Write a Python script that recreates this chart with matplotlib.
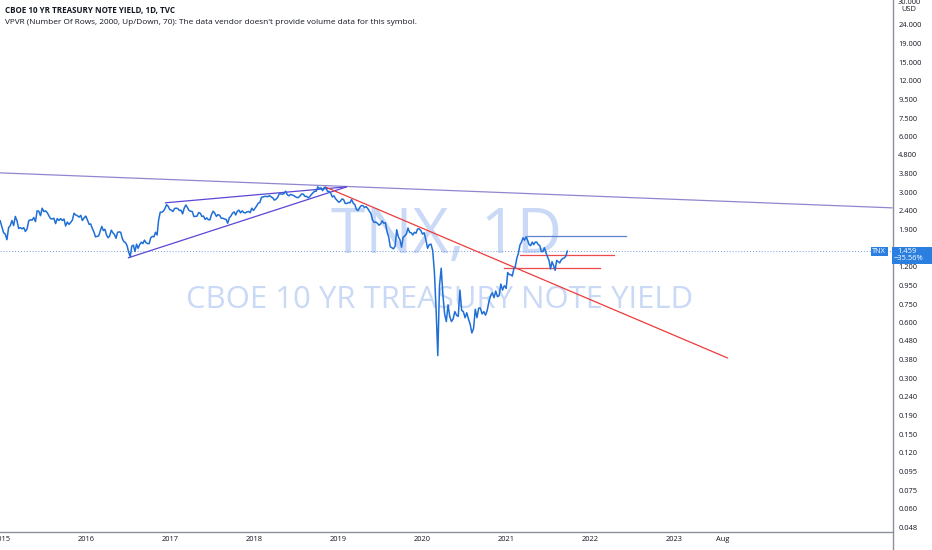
import matplotlib
matplotlib.use("Agg")
import matplotlib.pyplot as plt
from matplotlib.patches import Rectangle
from matplotlib.lines import Line2D
from matplotlib.ticker import NullLocator
import pandas as pd

plt.rcParams["font.family"] = ["Open Sans", "DejaVu Sans"]

# TNX closes, roughly one per week, one list per year
yld_2015 = [2.12, 1.97, 1.83, 1.80, 1.68, 1.95, 2.00, 2.13, 2.00, 2.24, 2.12, 1.93, 1.95,
            1.92, 1.95, 1.86, 1.92, 2.12, 2.15, 2.14, 2.21, 2.10, 2.40, 2.39, 2.26, 2.48,
            2.38, 2.40, 2.35, 2.26, 2.18, 2.17, 2.19, 2.05, 2.18, 2.13, 2.18, 2.13, 2.17,
            1.99, 2.09, 2.03, 2.08, 2.14, 2.33, 2.28, 2.26, 2.22, 2.27, 2.13, 2.20, 2.25]
yld_2016 = [2.24, 2.13, 2.03, 2.04, 1.93, 1.85, 1.74, 1.75, 1.76, 1.87, 1.98, 1.88, 1.91,
            1.78, 1.72, 1.76, 1.89, 1.83, 1.79, 1.71, 1.84, 1.85, 1.84, 1.70, 1.64, 1.62,
            1.56, 1.44, 1.36, 1.55, 1.57, 1.45, 1.59, 1.51, 1.58, 1.63, 1.60, 1.67, 1.62,
            1.60, 1.60, 1.72, 1.75, 1.74, 1.84, 1.78, 2.15, 2.36, 2.36, 2.39, 2.47, 2.59,
            2.54, 2.44]
yld_2017 = [2.42, 2.38, 2.47, 2.48, 2.47, 2.41, 2.42, 2.31, 2.48, 2.58, 2.50, 2.41, 2.39,
            2.38, 2.24, 2.24, 2.25, 2.35, 2.33, 2.24, 2.25, 2.16, 2.20, 2.15, 2.15, 2.30,
            2.39, 2.33, 2.24, 2.29, 2.27, 2.19, 2.19, 2.17, 2.16, 2.06, 2.20, 2.25, 2.33,
            2.37, 2.28, 2.39, 2.42, 2.34, 2.40, 2.35, 2.34, 2.37, 2.38, 2.35, 2.48, 2.41]
yld_2018 = [2.48, 2.55, 2.64, 2.66, 2.84, 2.85, 2.87, 2.87, 2.86, 2.90, 2.85, 2.82, 2.74,
            2.77, 2.83, 2.96, 2.96, 2.95, 2.97, 3.06, 2.93, 2.89, 2.94, 2.92, 2.90, 2.86,
            2.83, 2.83, 2.89, 2.96, 2.95, 2.87, 2.87, 2.82, 2.86, 2.94, 3.00, 3.06, 3.06,
            3.23, 3.16, 3.19, 3.08, 3.21, 3.19, 3.06, 3.05, 2.99, 2.85, 2.89, 2.79, 2.73]
yld_2019 = [2.67, 2.70, 2.78, 2.76, 2.63, 2.63, 2.66, 2.65, 2.76, 2.64, 2.59, 2.44, 2.41,
            2.50, 2.56, 2.56, 2.50, 2.53, 2.47, 2.39, 2.32, 2.14, 2.08, 2.09, 2.06, 2.01,
            2.04, 2.12, 2.06, 2.07, 1.85, 1.74, 1.54, 1.52, 1.50, 1.55, 1.90, 1.74, 1.68,
            1.53, 1.73, 1.76, 1.80, 1.94, 1.84, 1.83, 1.78, 1.84, 1.82, 1.92, 1.92, 1.88]
yld_2020 = [1.80, 1.83, 1.68, 1.51, 1.58, 1.59, 1.47, 1.13, 0.71, 0.40, 0.95, 1.18, 0.85,
            0.67, 0.61, 0.75, 0.65, 0.61, 0.63, 0.69, 0.66, 0.65, 0.90, 0.70, 0.69, 0.64,
            0.68, 0.63, 0.59, 0.53, 0.56, 0.71, 0.64, 0.72, 0.72, 0.67, 0.69, 0.66, 0.70,
            0.78, 0.84, 0.87, 0.82, 0.89, 0.83, 0.84, 0.97, 0.90, 0.95, 0.93]
yld_2021 = [0.92, 1.12, 1.09, 1.09, 1.07, 1.17, 1.21, 1.34, 1.42, 1.57, 1.63, 1.72, 1.67,
            1.74, 1.67, 1.58, 1.56, 1.63, 1.58, 1.63, 1.63, 1.58, 1.56, 1.45, 1.45, 1.52,
            1.43, 1.36, 1.30, 1.17, 1.28, 1.22, 1.15, 1.30, 1.28, 1.26, 1.31, 1.33, 1.34,
            1.37, 1.459]
year_spans = [("2014-12-24", "2015-12-31", yld_2015),
              ("2016-01-01", "2016-12-30", yld_2016),
              ("2017-01-06", "2017-12-29", yld_2017),
              ("2018-01-05", "2018-12-28", yld_2018),
              ("2019-01-04", "2019-12-27", yld_2019),
              ("2020-01-03", "2020-12-31", yld_2020),
              ("2021-01-01", "2021-09-24", yld_2021)]

last_value = 1.459
last_change = "\u221235.56%"

# drawings on the chart: (start date, start value, end date, end value)
long_trend = ("2014-12-23", 3.84, "2025-08-08", 2.49)
wedge_upper = ("2016-12-09", 2.65, "2019-02-08", 3.23)
wedge_lower = ("2016-07-01", 1.34, "2019-02-08", 3.23)
red_trend = ("2018-11-05", 3.23, "2023-08-23", 0.388)
# horizontal levels: (start, end, value)
level_blue = ("2021-04-02", "2022-06-06", 1.763)
level_red_hi = ("2021-03-03", "2022-04-15", 1.392)
level_red_lo = ("2020-12-23", "2022-02-13", 1.182)

y_ticks = [24, 19, 15, 12, 9.5, 7.5, 6, 4.8, 3.8, 3, 2.4, 1.9, 1.2, 0.95, 0.75, 0.6,
           0.48, 0.38, 0.3, 0.24, 0.19, 0.15, 0.12, 0.095, 0.075, 0.06, 0.048]
x_tick_dates = ["2015-01-01", "2016-01-01", "2017-01-01", "2018-01-01", "2019-01-01",
                "2020-01-01", "2021-01-01", "2022-01-01", "2023-01-01", "2023-08-01"]
x_tick_labels = ["2015", "2016", "2017", "2018", "2019", "2020", "2021", "2022", "2023", "Aug"]

W, H = 932, 550
TXT = "#131722"
AXC = "#8d9099"
BLUE = "#1f6fd6"

fig = plt.figure(figsize=(W / 100, H / 100), dpi=100)
ax = fig.add_axes([0, 18 / H, 893 / W, 532 / H])

dates, values = [], []
for start, end, vals in year_spans:
    dates.extend(pd.date_range(start, end, periods=len(vals)))
    values.extend(vals)
ax.plot(dates, values, color=BLUE, lw=1.1, zorder=4)


def seg(spec, color, lw=0.9):
    d0, v0, d1, v1 = spec
    ax.plot(pd.to_datetime([d0, d1]), [v0, v1], color=color, lw=lw, zorder=3,
            solid_capstyle="butt")


seg(long_trend, "#8f86d0", 0.9)
seg(wedge_upper, "#5b46d6", 0.9)
seg(wedge_lower, "#5b46d6", 0.9)
seg(red_trend, "#ee3b3b", 0.9)
for (d0, d1, v), c in [(level_blue, "#5f82cf"), (level_red_hi, "#ee4a4a"),
                       (level_red_lo, "#ee4a4a")]:
    ax.plot(pd.to_datetime([d0, d1]), [v, v], color=c, lw=0.9, zorder=3)

ax.axhline(last_value, color="#6f9be0", lw=0.7, ls=(0, (1, 2)), zorder=2)

# watermark
ax.text(0.5, 0.555, "TNX, 1D", transform=ax.transAxes, ha="center", va="center",
        fontsize=45, color="#c9d9f6", zorder=0)
ax.text(0.4925, 0.436, "CBOE 10 YR TREASURY NOTE YIELD", transform=ax.transAxes,
        ha="center", va="center", fontsize=22.4, color="#c9d9f6", zorder=0)

ax.set_yscale("log")
ax.set_ylim(0.04513, 32.6)
t0 = pd.Timestamp("2016-01-01")
days_per_px = 365.25 / 84
ax.set_xlim(t0 - pd.Timedelta(days=86 * days_per_px), t0 + pd.Timedelta(days=807 * days_per_px))

ax.yaxis.tick_right()
ax.set_yticks(y_ticks)
ax.set_yticklabels([f"{v:.3f}" for v in y_ticks])
ax.yaxis.set_minor_locator(NullLocator())
ax.set_xticks(pd.to_datetime(x_tick_dates))
ax.set_xticklabels(x_tick_labels)
ax.tick_params(axis="y", length=0, pad=3.8, labelsize=5.4, labelcolor=TXT)
ax.tick_params(axis="x", length=0, pad=3.2, labelsize=5.4, labelcolor=TXT)
for s in ("top", "left", "right"):
    ax.spines[s].set_visible(False)
ax.spines["bottom"].set_color(AXC)
ax.spines["bottom"].set_linewidth(1.0)
fig.add_artist(Line2D([893 / W, 893 / W], [0, 1], transform=fig.transFigure,
                      color=AXC, lw=1.0))

# header texts
fig.text(5 / W, 1 - 10 / H, "CBOE 10 YR TREASURY NOTE YIELD, 1D, TVC", fontsize=5.8,
         fontweight="bold", color=TXT, va="center", ha="left")
fig.text(5 / W, 1 - 22 / H,
         "VPVR (Number Of Rows, 2000, Up/Down, 70): The data vendor doesn't provide "
         "volume data for this symbol.", fontsize=5.95, color=TXT, va="center", ha="left")
fig.text(898 / W, 1 - 2 / H, "30.000", fontsize=5.4, color=TXT, va="center", ha="left")
fig.text(909 / W, 1 - 9.5 / H, "USD", fontsize=5.4, color=TXT, va="center", ha="center")

# last price labels
y_px = ax.transData.transform((ax.get_xlim()[0], last_value))[1]
top = y_px + 4.5
fig.add_artist(Rectangle((892 / W, (top - 17) / H), 40 / W, 17 / H,
                         transform=fig.transFigure, color="#2a7fe0", lw=0, zorder=5))
fig.add_artist(Rectangle((871 / W, (top - 9.5) / H), 16.5 / W, 9.5 / H,
                         transform=fig.transFigure, color="#2a7fe0", lw=0, zorder=5))
fig.text(879 / W, (top - 4.8) / H, "TNX", fontsize=5.2, color="white",
         ha="center", va="center", zorder=6)
fig.text(897 / W, (top - 4.5) / H, f"{last_value:.3f}", fontsize=5.4, color="white",
         ha="left", va="center", zorder=6)
fig.text(894 / W, (top - 12) / H, last_change, fontsize=5.4, color="white",
         ha="left", va="center", zorder=6)

fig.savefig("out.png", dpi=100)
